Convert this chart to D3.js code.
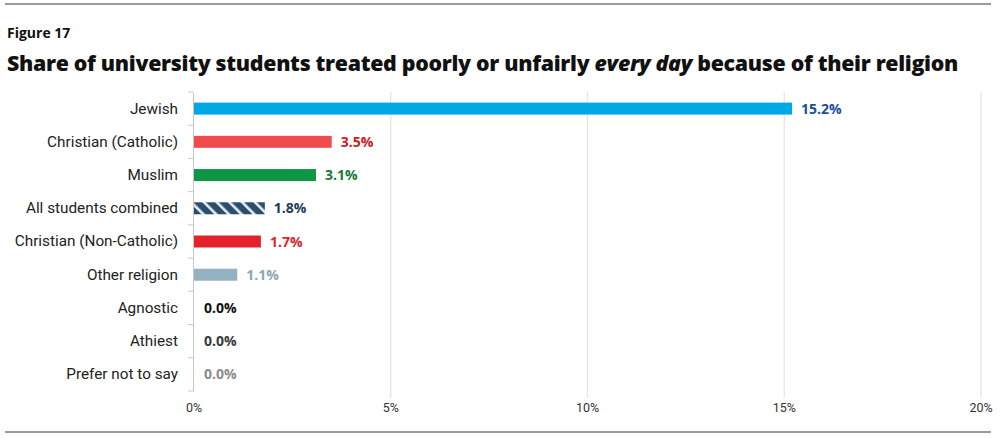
<!DOCTYPE html>
<html>
<head>
<meta charset="utf-8">
<script src="https://cdn.jsdelivr.net/npm/d3@7"></script>
<style>
html,body{margin:0;padding:0;background:#fff;}
svg{display:block;}
</style>
</head>
<body>
<svg id="chart" width="1000" height="438"></svg>
<script>
const categories = ["Jewish","Christian (Catholic)","Muslim","All students combined","Christian (Non-Catholic)","Other religion","Agnostic","Athiest","Prefer not to say"];
const values = [15.2, 3.5, 3.1, 1.8, 1.7, 1.1, 0.0, 0.0, 0.0];
const barColors = ["#00a8e6","#f04c4f","#0c9646","url(#hatch)","#e3222c","#93b1c0","#333","#333","#888"];
const labelColors = ["#1b4f9c","#c62027","#177a37","#1f3a5c","#e3222c","#8aa6b7","#111111","#3a3a3a","#8c8c8c"];
const xTicks = [0,5,10,15,20];
const xTickLabels = ["0%","5%","10%","15%","20%"];

const svg = d3.select("#chart");
const defs = svg.append("defs");
const pat = defs.append("pattern").attr("id","hatch").attr("patternUnits","userSpaceOnUse")
  .attr("width",9).attr("height",9).attr("patternTransform","rotate(-45)");
pat.append("rect").attr("width",9).attr("height",9).attr("fill","#2b4d6e");
pat.append("rect").attr("x",0).attr("width",2.6).attr("height",9).attr("fill","#e6eef4");

// rules
svg.append("line").attr("x1",5).attr("x2",991).attr("y1",4).attr("y2",4).attr("stroke","#9a9a9a").attr("stroke-width",2);
svg.append("line").attr("x1",5).attr("x2",991).attr("y1",432).attr("y2",432).attr("stroke","#9a9a9a").attr("stroke-width",2);

svg.append("text").attr("x",7).attr("y",38).attr("font-family","'Open Sans'").attr("font-weight",700)
  .attr("font-size",14).attr("fill","#111").text("Figure 17");

const title = svg.append("text").attr("x",7).attr("y",71).attr("font-family","'Open Sans'").attr("font-weight",800)
  .attr("font-size",21).attr("fill","#111").attr("letter-spacing","-0.3");
title.append("tspan").text("Share of university students treated poorly or unfairly ");
title.append("tspan").attr("font-style","italic").text("every day");
title.append("tspan").text(" because of their religion");
title.attr("textLength",951).attr("lengthAdjust","spacingAndGlyphs");

const x = d3.scaleLinear().domain([0,20]).range([194,981]);
const y = d3.scaleBand().domain(categories).range([92,391]).paddingInner(0).paddingOuter(0);

// gridlines
svg.append("g").selectAll("line").data(xTicks.slice(1)).join("line")
  .attr("x1",d=>x(d)).attr("x2",d=>x(d)).attr("y1",92).attr("y2",398)
  .attr("stroke","#e3e3e3").attr("stroke-width",1.2);

// x tick labels
svg.append("g").selectAll("text").data(xTicks).join("text")
  .attr("x",d=>x(d)).attr("y",412).attr("text-anchor","middle")
  .attr("font-family","Roboto").attr("font-size",12.5).attr("fill","#333")
  .text((d,i)=>xTickLabels[i]);

// y axis
const yAxis = d3.axisLeft(y).tickSize(0).tickPadding(15);
const yg = svg.append("g").attr("transform","translate(193,0)").call(yAxis);
yg.select(".domain").attr("stroke","#c8c8c8");
yg.selectAll("text").attr("font-family","Roboto").attr("font-size",15.3).attr("fill","#222");
// band boundary ticks
const bounds = categories.map(c=>y(c)).concat([y.range()[1]]);
svg.append("g").selectAll("line").data(bounds).join("line")
  .attr("x1",188).attr("x2",193).attr("y1",d=>d).attr("y2",d=>d)
  .attr("stroke","#c8c8c8").attr("stroke-width",1);

const barH = 12;
const rows = categories.map((c,i)=>({c, v:values[i], fill:barColors[i], lc:labelColors[i]}));
svg.append("g").selectAll("rect").data(rows.filter(d=>d.v>0)).join("rect")
  .attr("x",x(0)).attr("y",d=>y(d.c)+y.bandwidth()/2-barH/2)
  .attr("width",d=>x(d.v)-x(0)).attr("height",barH).attr("fill",d=>d.fill);

svg.append("g").selectAll("text").data(rows).join("text")
  .attr("x",d=>x(d.v)+(d.v>0?9:10)).attr("y",d=>y(d.c)+y.bandwidth()/2+5)
  .attr("font-family","'Open Sans'").attr("font-weight",700).attr("font-size",14)
  .attr("fill",d=>d.lc).text(d=>d.v.toFixed(1)+"%");
</script>
</body>
</html>
